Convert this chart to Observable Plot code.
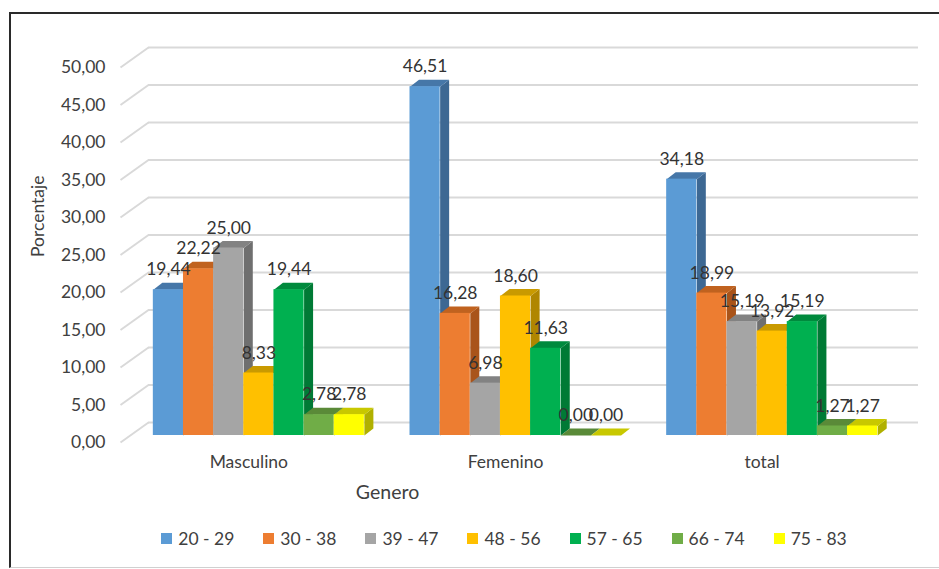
<!DOCTYPE html>
<html>
<head>
<meta charset="utf-8">
<script src="https://cdn.jsdelivr.net/npm/d3@7"></script>
<script src="https://cdn.jsdelivr.net/npm/@observablehq/plot@0.6"></script>
<style>
  html, body { margin: 0; padding: 0; background: #fff; overflow: hidden; }
  #wrap { position: relative; width: 939px; height: 569px; font-family: Lato, sans-serif; }
  #chart { position: absolute; left: 0; top: 0; }
  #border { position: absolute; left: 9px; top: 12px; width: 950px; height: 553px;
            border-left: 2px solid #2a2a2a; border-top: 2px solid #2a2a2a; border-bottom: 1px solid #d0d0d0;
            pointer-events: none; }
  #legend { position: absolute; left: 0; top: 527px; width: 939px; height: 22px;
            display: flex; justify-content: center; align-items: center; gap: 29px;
            font-size: 17.5px; color: #404040; padding-left: 69px; box-sizing: border-box; }
  #legend .item { display: flex; align-items: center; white-space: pre; }
  #legend .sw { width: 11px; height: 11px; margin-right: 6px; display: inline-block; }
</style>
</head>
<body>
<div id="wrap">
  <div id="chart"></div>
  <div id="legend"></div>
  <div id="border"></div>
</div>
<script>
// ---- data ----
const groups = ["Masculino", "Femenino", "total"];
const series = ["20 - 29", "30 - 38", "39 - 47", "48 - 56", "57 - 65", "66 - 74", "75 - 83"];
const masculino = [19.44, 22.22, 25.00, 8.33, 19.44, 2.78, 2.78];
const femenino = [46.51, 16.28, 6.98, 18.60, 11.63, 0.00, 0.00];
const total = [34.18, 18.99, 15.19, 13.92, 15.19, 1.27, 1.27];
const yTicks = [0, 5, 10, 15, 20, 25, 30, 35, 40, 45, 50];
const xLabel = "Genero";
const yLabel = "Porcentaje";

// ---- styles ----
const frontColors = ["#5B9BD5", "#ED7D31", "#A5A5A5", "#FFC000", "#00B050", "#70AD47", "#FFFF00"];
const topColors   = ["#4677A8", "#C0621F", "#828282", "#C99A00", "#008A3D", "#5A8A38", "#C8C800"];
const sideColors  = ["#3D6893", "#A9541A", "#6F6F6F", "#B08600", "#007A35", "#4D7A30", "#B0B000"];
const gridColor = "#d9d9d9";
const textColor = "#404040";

// ---- layout ----
const W = 939, H = 515, mL = 120, mR = 49, mT = 67, mB = 73;
const PX_X = (W - mL - mR) / groups.length;   // px per group unit
const PX_Y = (H - mT - mB) / 50;               // px per percent
const barPlaneDX = 10, barPlaneDY = -7;        // bars sit slightly behind the axis plane
const wallDX = 28, wallDY = -20;               // back wall offset
const barW = 30.15, groupStart = -105.5;       // px
const depthX = 9 / PX_X, depthY = 7 / PX_Y;    // bar depth in data units

const values = [masculino, femenino, total];
const fmt = v => d3.format(".2f")(v).replace(".", ",");

const rows = [];
values.forEach((arr, g) => arr.forEach((v, i) => {
  const x1 = g + (groupStart + i * barW) / PX_X;
  const x2 = x1 + barW / PX_X;
  rows.push({g, i, group: groups[g], series: series[i], value: v, x1, x2, id: g + "-" + i});
}));

const sidePts = [], topPts = [];
for (const r of rows) {
  sidePts.push(
    {id: r.id, i: r.i, x: r.x2, y: 0},
    {id: r.id, i: r.i, x: r.x2 + depthX, y: depthY},
    {id: r.id, i: r.i, x: r.x2 + depthX, y: r.value + depthY},
    {id: r.id, i: r.i, x: r.x2, y: r.value});
  topPts.push(
    {id: r.id, i: r.i, x: r.x1, y: r.value},
    {id: r.id, i: r.i, x: r.x1 + depthX, y: r.value + depthY},
    {id: r.id, i: r.i, x: r.x2 + depthX, y: r.value + depthY},
    {id: r.id, i: r.i, x: r.x2, y: r.value});
}

const marks = [
  Plot.ruleY(yTicks, {dx: wallDX, dy: wallDY, stroke: gridColor, strokeWidth: 2}),
  Plot.link(yTicks, {
    x1: () => -0.5, y1: d => d,
    x2: () => -0.5 + wallDX / PX_X, y2: d => d - wallDY / PX_Y,
    stroke: gridColor, strokeWidth: 2
  })
];
series.forEach((s, i) => {
  marks.push(
    Plot.line(sidePts.filter(p => p.i === i), {x: "x", y: "y", z: "id", curve: "linear-closed",
      fill: sideColors[i], stroke: "none", dx: barPlaneDX, dy: barPlaneDY}),
    Plot.line(topPts.filter(p => p.i === i), {x: "x", y: "y", z: "id", curve: "linear-closed",
      fill: topColors[i], stroke: "none", dx: barPlaneDX, dy: barPlaneDY}),
    Plot.rect(rows.filter(r => r.i === i), {x1: "x1", x2: "x2", y1: () => 0, y2: "value",
      fill: frontColors[i], dx: barPlaneDX, dy: barPlaneDY})
  );
});
marks.push(
  Plot.text(rows, {x: d => (d.x1 + d.x2) / 2, y: "value", text: d => fmt(d.value),
    dx: barPlaneDX, dy: barPlaneDY - 20, fill: "#333", fontSize: 17.5}),
  Plot.text([xLabel], {frameAnchor: "bottom", text: d => d, dx: -118, dy: 56, fontSize: 19.5, fill: textColor}),
  Plot.text([yLabel], {frameAnchor: "left", text: d => d, rotate: -90, dx: -82, dy: 2, fontSize: 17.5, fill: textColor})
);

const chart = Plot.plot({
  width: W, height: H,
  marginLeft: mL, marginRight: mR, marginTop: mT, marginBottom: mB,
  style: {fontFamily: "Lato, sans-serif", fontSize: "17.5px", color: textColor, background: "transparent", overflow: "visible"},
  x: {domain: [-0.5, 2.5], ticks: [0, 1, 2], tickFormat: i => groups[i], tickSize: 0, tickPadding: 13, label: null},
  y: {domain: [0, 50], ticks: yTicks, tickFormat: fmt, tickSize: 0, tickPadding: 15, label: null},
  marks
});
document.getElementById("chart").appendChild(chart);

const legend = document.getElementById("legend");
series.forEach((s, i) => {
  const it = document.createElement("div");
  it.className = "item";
  const sw = document.createElement("span");
  sw.className = "sw";
  sw.style.background = frontColors[i];
  it.appendChild(sw);
  it.appendChild(document.createTextNode(s));
  legend.appendChild(it);
});
</script>
</body>
</html>
